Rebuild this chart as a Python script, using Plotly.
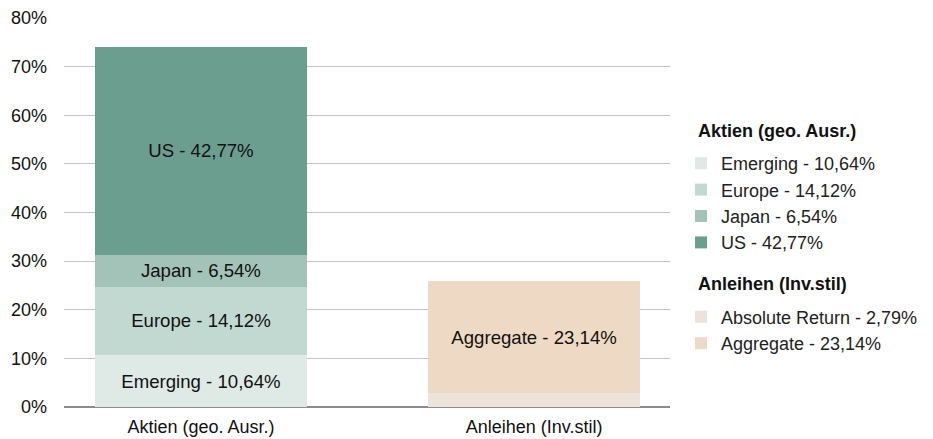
import plotly.graph_objects as go

categories = ["Aktien (geo. Ausr.)", "Anleihen (Inv.stil)"]

aktien_title = "Aktien (geo. Ausr.)"
aktien_names = ["Emerging", "Europe", "Japan", "US"]
aktien_values = [10.64, 14.12, 6.54, 42.77]
aktien_labels = ["10,64%", "14,12%", "6,54%", "42,77%"]
aktien_colors = ["#dfe9e5", "#c2d9d1", "#a4c3b8", "#6c9e90"]

anleihen_title = "Anleihen (Inv.stil)"
anleihen_names = ["Absolute Return", "Aggregate"]
anleihen_values = [2.79, 23.14]
anleihen_labels = ["2,79%", "23,14%"]
anleihen_colors = ["#ece3db", "#eedac4"]
anleihen_show_text = [False, True]

y_ticks = [0, 10, 20, 30, 40, 50, 60, 70, 80]

FONT = "Liberation Sans, Arial, Helvetica, sans-serif"
FS_BAR = 18.6
FS_TICK = 18
FS_LEG = 18
BAR_W = 0.635

# page body has an 8px margin -> figure coords = screen coords - 8
W, H = 945, 445
L, T = 56, 10
PW, PH = 606, 389
R = W - L - PW
B = H - T - PH
PLOT_BOTTOM = T + PH

fig = go.Figure()

for name, val, lab, col in zip(aktien_names, aktien_values, aktien_labels, aktien_colors):
    full = f"{name} - {lab}"
    fig.add_trace(go.Bar(
        x=[categories[0]], y=[val], name=full, width=BAR_W,
        marker=dict(color=col, line=dict(width=0)),
        text=[full], textposition="inside", insidetextanchor="middle",
        textfont=dict(color="#111111", size=FS_BAR, family=FONT),
        legendgroup="aktien",
        hoverinfo="name",
    ))

for name, val, lab, col, show in zip(anleihen_names, anleihen_values, anleihen_labels, anleihen_colors, anleihen_show_text):
    full = f"{name} - {lab}"
    fig.add_trace(go.Bar(
        x=[categories[1]], y=[val], name=full, width=BAR_W,
        marker=dict(color=col, line=dict(width=0)),
        text=[full if show else ""], textposition="inside", insidetextanchor="middle",
        textfont=dict(color="#111111", size=FS_BAR, family=FONT),
        legendgroup="anleihen",
        hoverinfo="name",
    ))

# legend group titles as annotations (paper coords)
for title, ypx in [(aktien_title, 131 - 8), (anleihen_title, 284 - 8)]:
    fig.add_annotation(
        text=f"<b>{title}</b>", xref="paper", yref="paper",
        x=(688 - L) / PW, xanchor="left",
        y=(PLOT_BOTTOM - ypx) / PH, yanchor="middle",
        showarrow=False, font=dict(size=FS_LEG, color="#111111", family=FONT),
    )

fig.update_layout(
    width=W, height=H,
    barmode="stack",
    plot_bgcolor="white", paper_bgcolor="white",
    margin=dict(l=L, r=R, t=T, b=B),
    font=dict(family=FONT, size=FS_TICK, color="#111111"),
    legend=dict(
        traceorder="grouped",
        x=(673 - L) / PW, xanchor="left",
        y=(PLOT_BOTTOM - 137) / PH, yanchor="top",
        font=dict(size=FS_LEG, color="#222222", family=FONT),
        tracegroupgap=48,
        bgcolor="rgba(0,0,0,0)",
    ),
    xaxis=dict(
        type="category",
        range=[-0.411, 1.408],
        showgrid=False, showline=False, zeroline=False,
        ticks="", tickfont=dict(size=FS_TICK, color="#111111"),
        ticklabelstandoff=7,
        automargin=False,
    ),
    yaxis=dict(
        range=[0, 80],
        tickvals=y_ticks,
        ticktext=[f"{v}%" for v in y_ticks],
        showgrid=True, gridcolor="#c4c4c4", gridwidth=1,
        zeroline=True, zerolinecolor="#8c8c8c", zerolinewidth=2,
        showline=False, ticks="",
        tickfont=dict(size=FS_TICK, color="#111111"),
        ticklabelstandoff=16,
        automargin=False,
    ),
    showlegend=True,
)

fig.write_html("out.html")
